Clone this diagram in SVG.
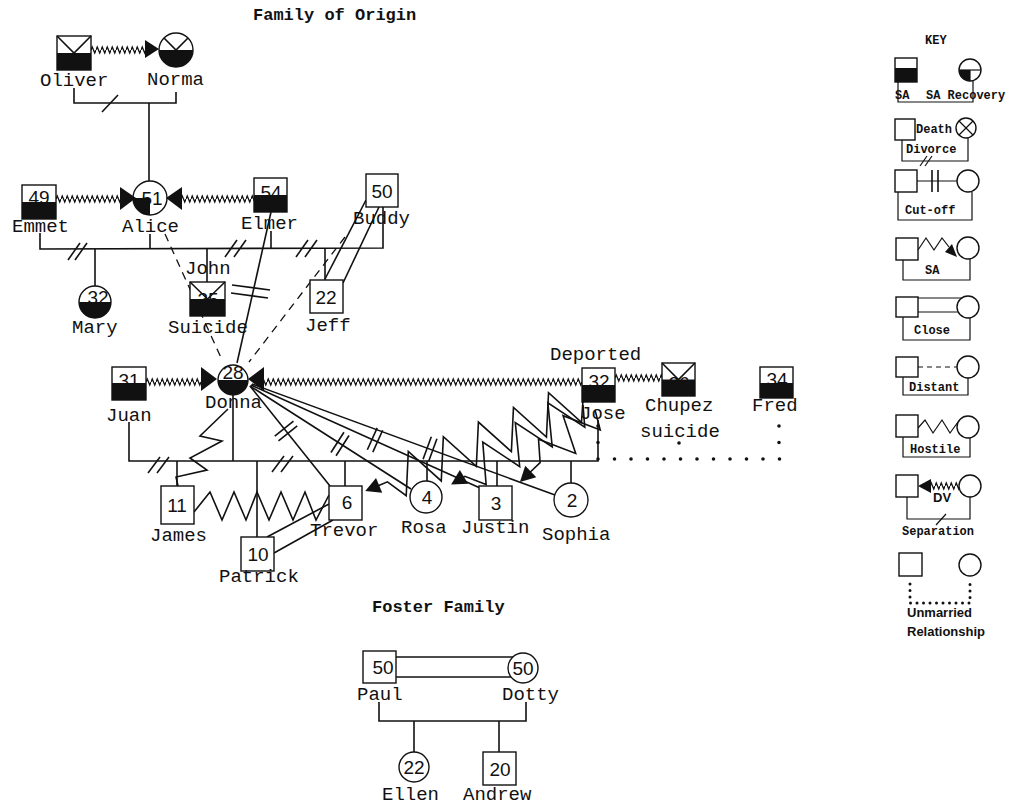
<svg xmlns="http://www.w3.org/2000/svg" width="1016" height="806" viewBox="0 0 1016 806">
<defs>
<style>
.l{stroke:#111;stroke-width:1.6;fill:none}
.th{stroke:#111;stroke-width:1.2;fill:none}
.d{stroke:#111;stroke-width:1.3;fill:none;stroke-dasharray:8 6}
.dot{stroke:#111;stroke-width:3.6;fill:none;stroke-linecap:round;stroke-dasharray:0 16.5}
.n{fill:#fff;stroke:#111;stroke-width:1.4}
.b{fill:#111}
.t{font-family:"Liberation Mono","Courier New",monospace;font-size:19px;fill:#111}
.num{font-family:"Liberation Sans",Arial,sans-serif;font-size:19px;fill:#111;text-anchor:middle}
.title{font-family:"Liberation Mono","Courier New",monospace;font-size:17px;font-weight:bold;fill:#111}
.k{font-family:"Liberation Mono","Courier New",monospace;font-size:12px;font-weight:bold;fill:#111}
.ks{font-family:"Liberation Sans",Arial,sans-serif;font-size:13px;font-weight:bold;fill:#111}
</style>
<pattern id="zz" width="5" height="10" patternUnits="userSpaceOnUse"><polyline points="0,5 1.25,2 3.75,8 5,5" fill="none" stroke="#111" stroke-width="1.3"/></pattern>
</defs>
<rect width="1016" height="806" fill="#fff"/>

<text class="title" x="253" y="20">Family of Origin</text>
<text class="title" x="372" y="612" font-size="18">Foster Family</text>

<g id="connectors">
  <g transform="translate(91,45)"><rect width="55" height="10" fill="url(#zz)"/></g>
  <polyline class="l" points="74,88 74,103 176,103 176,92"/>
  <line class="l" x1="102" y1="112" x2="118" y2="95"/>
  <line class="l" x1="149" y1="103" x2="149" y2="181"/>
  <g transform="translate(56,194)"><rect width="64" height="10" fill="url(#zz)"/></g>
  <g transform="translate(181,194)"><rect width="73" height="10" fill="url(#zz)"/></g>
  <polyline class="l" points="40,233 40,249 383,248 383,207"/>
  <line class="l" x1="150" y1="234" x2="150" y2="249"/>
  <line class="l" x1="271" y1="231" x2="271" y2="248"/>
  <line class="l" x1="68" y1="260" x2="80" y2="243"/>
  <line class="l" x1="75" y1="260" x2="87" y2="243"/>
  <line class="l" x1="225" y1="257" x2="237" y2="240"/>
  <line class="l" x1="234" y1="257" x2="246" y2="240"/>
  <line class="l" x1="296" y1="257" x2="308" y2="240"/>
  <line class="l" x1="305" y1="257" x2="317" y2="240"/>
  <line class="l" x1="95" y1="249" x2="95" y2="286"/>
  <line class="l" x1="207" y1="248" x2="207" y2="282"/>
  <line class="l" x1="325" y1="248" x2="325" y2="280"/>
  <line class="l" x1="325" y1="279" x2="366" y2="200"/>
  <line class="l" x1="343" y1="283" x2="379" y2="207"/>
  <line class="d" x1="165" y1="234" x2="222" y2="360"/>
  <line class="d" x1="345" y1="237" x2="249" y2="362"/>
  <line class="l" x1="271" y1="212" x2="237" y2="363"/>
  <line class="l" x1="232" y1="285" x2="270" y2="290"/>
  <line class="l" x1="231" y1="293" x2="268" y2="298"/>
  <g transform="translate(146,377)"><rect width="56" height="10" fill="url(#zz)"/></g>
  <g transform="translate(262,377)"><rect width="320" height="10" fill="url(#zz)"/></g>
  <g transform="translate(615,373)"><rect width="47" height="10" fill="url(#zz)"/></g>
  <polyline class="l" points="129,422 129,461 598,461 598,420"/>
  <line class="l" x1="233" y1="395" x2="233" y2="461"/>
  <line class="l" x1="148" y1="473" x2="160" y2="457"/>
  <line class="l" x1="157" y1="473" x2="169" y2="457"/>
  <line class="l" x1="272" y1="472" x2="284" y2="456"/>
  <line class="l" x1="281" y1="472" x2="293" y2="456"/>
  <line class="dot" x1="598" y1="426" x2="598" y2="459"/>
  <line class="dot" x1="598" y1="459" x2="780" y2="459"/>
  <line class="dot" x1="779" y1="426" x2="779" y2="459"/>
  <circle cx="679" cy="443" r="1.8" class="b"/>
  <line class="l" x1="177" y1="461" x2="177" y2="486"/>
  <line class="l" x1="257" y1="461" x2="257" y2="537"/>
  <line class="l" x1="345" y1="461" x2="345" y2="486"/>
  <line class="l" x1="427" y1="461" x2="427" y2="481"/>
  <line class="l" x1="497" y1="461" x2="497" y2="486"/>
  <line class="l" x1="571" y1="461" x2="571" y2="483"/>
  <polyline class="l" points="228,409 200,436 222,441 190,458 207,470 176,477 178,486"/>
  <polyline class="l" points="194,512 210,492 222,520 234,492 246,520 257,492 269,520 281,492 293,520 305,492 316,520 329,495"/>
  <line class="l" x1="267" y1="537" x2="329" y2="504"/>
  <line class="l" x1="274" y1="553" x2="333" y2="520"/>
  <line class="l" x1="250" y1="386" x2="330" y2="486"/>
  <line class="l" x1="250" y1="386" x2="411" y2="489"/>
  <line class="l" x1="251" y1="385" x2="480" y2="488"/>
  <line class="l" x1="252" y1="384" x2="555" y2="495"/>
  <g transform="translate(286,431) rotate(51.3)"><line class="l" x1="-3" y1="-12" x2="-3" y2="12"/><line class="l" x1="3" y1="-12" x2="3" y2="12"/></g>
  <g transform="translate(340,444) rotate(32.6)"><line class="l" x1="-3" y1="-12" x2="-3" y2="12"/><line class="l" x1="3" y1="-12" x2="3" y2="12"/></g>
  <g transform="translate(375,440) rotate(24.2)"><line class="l" x1="-3" y1="-12" x2="-3" y2="12"/><line class="l" x1="3" y1="-12" x2="3" y2="12"/></g>
  <g transform="translate(430,449) rotate(20.1)"><line class="l" x1="-3" y1="-12" x2="-3" y2="12"/><line class="l" x1="3" y1="-12" x2="3" y2="12"/></g>
  <g transform="translate(583,400) rotate(157.3)"><polyline class="l" points="0,0 10,-20 29,20 48,-20 67,20 86,-20 105,20 124,-20 143,20 162,-20 181,20 200,-20 212,0 222,0"/><polygon class="b" points="236,0 221,-8 221,8"/></g>
  <g transform="translate(583,405) rotate(148.9)"><polyline class="l" points="0,0 10,-20 29,20 48,-20 67,20 86,-20 105,20 124,-18 138,0 140,0"/><polygon class="b" points="154,0 139,-8 139,8"/></g>
  <g transform="translate(595,410) rotate(136.2)"><polyline class="l" points="0,0 10,-18 27,18 44,-18 61,18 76,0 90,0"/><polygon class="b" points="104,0 89,-8 89,8"/></g>
  <line class="l" x1="396" y1="657" x2="513" y2="657"/>
  <line class="l" x1="396" y1="677" x2="511" y2="677"/>
  <polyline class="l" points="379,702 379,721 526,721 526,702"/>
  <line class="l" x1="414" y1="721" x2="414" y2="752"/>
  <line class="l" x1="499" y1="721" x2="499" y2="752"/>
</g>

<g id="oliver">
  <rect class="n" x="57" y="36" width="34" height="34"/>
  <rect class="b" x="57" y="53" width="34" height="17"/>
  <polyline class="l" points="57,36 74,53 91,36"/>
  <text class="t" x="40" y="86">Oliver</text>
</g>
<g id="norma">
  <circle class="n" cx="176" cy="50" r="17"/>
  <path class="b" d="M159,50 A17,17 0 0 0 193,50 Z"/>
  <polyline class="l" points="164,38 176,50 188,38"/>
  <polygon class="b" points="145,40 145,58 159,49"/>
  <text class="t" x="147" y="85">Norma</text>
</g>
<g id="emmet">
  <rect class="n" x="22" y="185" width="34" height="34"/>
  <text class="num" x="39" y="204">49</text>
  <rect class="b" x="22" y="202" width="34" height="17"/>
  <text class="t" x="12" y="232">Emmet</text>
</g>
<g id="alice">
  <circle class="n" cx="150" cy="198" r="17"/>
  <path class="b" d="M133,198 A17,17 0 0 0 150,215 L150,198 Z"/>
  <text class="num" x="152" y="205">51</text>
  <polygon class="b" points="120,187 120,210 136,198"/>
  <polygon class="b" points="182,187 182,210 166,198"/>
  <text class="t" x="122" y="232">Alice</text>
</g>
<g id="elmer">
  <rect class="n" x="254" y="178" width="33" height="34"/>
  <text class="num" x="271" y="199">54</text>
  <rect class="b" x="254" y="195" width="33" height="17"/>
  <text class="t" x="241" y="229">Elmer</text>
</g>
<g id="buddy">
  <rect class="n" x="366" y="174" width="32" height="33"/>
  <text class="num" x="382" y="198">50</text>
  <text class="t" x="353" y="224">Buddy</text>
</g>
<g id="mary">
  <circle class="n" cx="95" cy="302" r="16"/>
  <text class="num" x="98" y="304">32</text>
  <path class="b" d="M79,302 A16,16 0 0 0 111,302 Z"/>
  <text class="t" x="72" y="333">Mary</text>
</g>
<g id="john">
  <text class="t" x="185" y="274">John</text>
  <rect class="n" x="190" y="282" width="35" height="34"/>
  <text class="num" x="208" y="306">35</text>
  <rect class="b" x="190" y="299" width="35" height="17"/>
  <polyline class="l" points="190,282 207.5,299 225,282"/>
  <text class="t" x="168" y="333">Suicide</text>
</g>
<g id="jeff">
  <rect class="n" x="310" y="280" width="33" height="33"/>
  <text class="num" x="326" y="304">22</text>
  <text class="t" x="305" y="331">Jeff</text>
</g>
<g id="juan">
  <rect class="n" x="112" y="367" width="34" height="33"/>
  <text class="num" x="129" y="387">31</text>
  <rect class="b" x="112" y="383" width="34" height="17"/>
  <text class="t" x="106" y="421">Juan</text>
</g>
<g id="donna">
  <circle class="n" cx="233" cy="380" r="15"/>
  <text class="num" x="233" y="379">28</text>
  <path class="b" d="M218,380 A15,15 0 0 0 248,380 Z"/>
  <polygon class="b" points="201,367 201,391 217,379"/>
  <polygon class="b" points="264,367 264,391 248,379"/>
  <text class="t" x="205" y="408">Donna</text>
</g>
<g id="jose">
  <text class="t" x="550" y="360">Deported</text>
  <rect class="n" x="582" y="368" width="33" height="34"/>
  <text class="num" x="599" y="388">32</text>
  <rect class="b" x="582" y="385" width="33" height="17"/>
  <text class="t" x="580" y="419">Jose</text>
</g>
<g id="chupez">
  <rect class="n" x="662" y="363" width="33" height="33"/>
  <text class="num" x="679" y="390">26</text>
  <rect class="b" x="662" y="379.5" width="33" height="16.5"/>
  <polyline class="l" points="662,363 678.5,379.5 695,363"/>
  <text class="t" x="645" y="411">Chupez</text>
  <text class="t" x="640" y="437">suicide</text>
</g>
<g id="fred">
  <rect class="n" x="760" y="367" width="33" height="31"/>
  <text class="num" x="777" y="386">34</text>
  <rect class="b" x="760" y="383" width="33" height="15"/>
  <text class="t" x="752" y="411">Fred</text>
</g>
<g id="james">
  <rect class="n" x="161" y="486" width="33" height="38"/>
  <text class="num" x="177" y="512">11</text>
  <text class="t" x="150" y="541">James</text>
</g>
<g id="patrick">
  <rect class="n" x="241" y="537" width="33" height="34"/>
  <text class="num" x="258" y="561">10</text>
  <text class="t" x="219" y="582">Patrick</text>
</g>
<g id="trevor">
  <rect class="n" x="329" y="486" width="33" height="34"/>
  <text class="num" x="347" y="509">6</text>
  <text class="t" x="310" y="536">Trevor</text>
</g>
<g id="rosa">
  <circle class="n" cx="426" cy="497" r="16"/>
  <text class="num" x="427" y="504">4</text>
  <text class="t" x="401" y="533">Rosa</text>
</g>
<g id="justin">
  <rect class="n" x="479" y="486" width="33" height="34"/>
  <text class="num" x="496" y="510">3</text>
  <text class="t" x="461" y="533">Justin</text>
</g>
<g id="sophia">
  <circle class="n" cx="571" cy="500" r="17"/>
  <text class="num" x="572" y="507">2</text>
  <text class="t" x="542" y="540">Sophia</text>
</g>
<g id="paul">
  <rect class="n" x="363" y="651" width="33" height="32"/>
  <text class="num" x="383" y="674">50</text>
  <text class="t" x="357" y="700">Paul</text>
</g>
<g id="dotty">
  <circle class="n" cx="523" cy="668" r="15"/>
  <text class="num" x="523" y="675">50</text>
  <text class="t" x="502" y="700">Dotty</text>
</g>
<g id="ellen">
  <circle class="n" cx="414" cy="767" r="15"/>
  <text class="num" x="414" y="774">22</text>
  <text class="t" x="382" y="800">Ellen</text>
</g>
<g id="andrew">
  <rect class="n" x="483" y="752" width="33" height="33"/>
  <text class="num" x="500" y="776">20</text>
  <text class="t" x="463" y="800">Andrew</text>
</g>

<g id="key">
  <text class="k" x="925" y="44" font-size="9">KEY</text>
  <polyline class="th" points="898,82 898,102 973,102 973,81"/>
  <rect class="n" x="895" y="58" width="22" height="24"/>
  <rect class="b" x="895" y="68" width="22" height="14"/>
  <circle class="n" cx="970" cy="70" r="11"/>
  <path class="b" d="M959,70 A11,11 0 0 0 970,81 L970,70 Z"/>
  <polyline class="th" points="959,70 981,70"/>
  <polyline class="th" points="970,70 970,81"/>
  <text class="k" x="895" y="99">SA</text>
  <text class="k" x="926" y="99">SA Recovery</text>
  <polyline class="th" points="902,140 902,161 968,161 968,138"/>
  <line class="th" x1="920" y1="166" x2="927" y2="156"/>
  <line class="th" x1="925" y1="166" x2="932" y2="156"/>
  <rect class="n" x="895" y="119" width="20" height="21"/>
  <circle class="n" cx="966" cy="128" r="10"/>
  <line class="th" x1="959" y1="121" x2="973" y2="135"/>
  <line class="th" x1="973" y1="121" x2="959" y2="135"/>
  <text class="k" x="916" y="133">Death</text>
  <text class="k" x="906" y="153">Divorce</text>
  <line class="th" x1="917" y1="181" x2="957" y2="181"/>
  <line class="l" x1="932" y1="170" x2="932" y2="192"/>
  <line class="l" x1="938" y1="170" x2="938" y2="192"/>
  <polyline class="th" points="898,192 898,220 972,220 972,192"/>
  <rect class="n" x="895" y="170" width="22" height="22"/>
  <circle class="n" cx="968" cy="181" r="11"/>
  <text class="k" x="905" y="214">Cut-off</text>
  <polyline class="th" points="903,260 903,280 970,280 970,259"/>
  <polyline class="th" points="918,250 926,238 934,250 942,238 949,247"/>
  <polygon class="b" points="957,257 945,252 952,244"/>
  <rect class="n" x="896" y="238" width="22" height="22"/>
  <circle class="n" cx="968" cy="248" r="11"/>
  <text class="k" x="925" y="274">SA</text>
  <line class="th" x1="918" y1="298" x2="962" y2="298"/>
  <line class="th" x1="918" y1="312" x2="958" y2="312"/>
  <polyline class="th" points="903,317 903,340 970,340 970,318"/>
  <rect class="n" x="896" y="297" width="22" height="20"/>
  <circle class="n" cx="968" cy="307" r="11"/>
  <text class="k" x="914" y="334">Close</text>
  <line class="th" x1="918" y1="367" x2="957" y2="367" stroke-dasharray="5 4"/>
  <polyline class="th" points="903,377 903,395 968,395 968,378"/>
  <rect class="n" x="896" y="357" width="22" height="20"/>
  <circle class="n" cx="968" cy="367" r="11"/>
  <text class="k" x="909" y="391">Distant</text>
  <polyline class="th" points="918,428 925,420 933,433 942,420 950,433 958,422"/>
  <polyline class="th" points="903,437 903,457 970,457 970,438"/>
  <rect class="n" x="896" y="415" width="22" height="22"/>
  <circle class="n" cx="968" cy="427" r="11"/>
  <text class="k" x="910" y="453">Hostile</text>
  <g transform="translate(930,481)"><rect width="29" height="10" fill="url(#zz)"/></g>
  <polygon class="b" points="918,486 931,479 931,493"/>
  <polyline class="th" points="907,497 907,519 970,519 970,497"/>
  <line class="th" x1="936" y1="525" x2="946" y2="514"/>
  <rect class="n" x="896" y="475" width="22" height="22"/>
  <circle class="n" cx="970" cy="486" r="11"/>
  <text class="ks" x="933" y="502">DV</text>
  <text class="k" x="902" y="535">Separation</text>
  <rect class="n" x="899" y="553" width="23" height="23"/>
  <circle class="n" cx="970" cy="565" r="11"/>
  <polyline points="910,584 910,603 970,603 970,584" fill="none" stroke="#111" stroke-width="3" stroke-linecap="round" stroke-dasharray="0 6.5"/>
  <text class="ks" x="907" y="617" font-size="12">Unmarried</text>
  <text class="ks" x="907" y="636" font-size="12">Relationship</text>
</g>
</svg>
